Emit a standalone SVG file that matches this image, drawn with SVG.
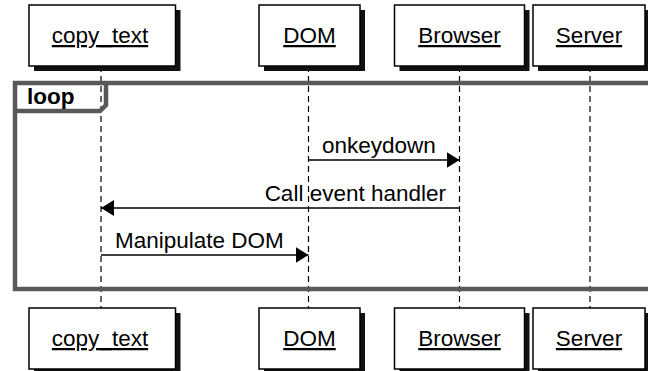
<svg xmlns="http://www.w3.org/2000/svg" width="648" height="371" viewBox="0 0 648 371">
  <style>
    .box { fill: #ffffff; stroke: #000000; stroke-width: 1.5; }
    .shadow { fill: #111111; }
    .name { font-family: "Liberation Sans", Arial, sans-serif; font-size: 22.5px; fill: #000000; text-anchor: middle; text-decoration: underline; }
    .life { stroke: #000000; stroke-width: 1.2; stroke-dasharray: 6 4; fill: none; }
    .frame { fill: none; stroke: #595959; stroke-width: 4.5; }
    .msg { stroke: #000000; stroke-width: 1.5; fill: none; }
    .label { font-family: "Liberation Sans", Arial, sans-serif; font-size: 22.5px; fill: #000000; }
    .kw { font-family: "Liberation Sans", Arial, sans-serif; font-size: 22.5px; font-weight: bold; fill: #000000; }
  </style>
  <defs>
    <marker id="head" markerWidth="14" markerHeight="16" refX="13" refY="8" orient="auto" markerUnits="userSpaceOnUse">
      <path d="M0,0 L13,8 L0,16 Z" fill="#000000"/>
    </marker>
  </defs>

  <rect width="648" height="371" fill="#ffffff"/>

  <!-- lifelines -->
  <g id="lifelines">
    <line class="life" x1="101" y1="66" x2="101" y2="308"/>
    <line class="life" x1="308.5" y1="66" x2="308.5" y2="308"/>
    <line class="life" x1="459.5" y1="66" x2="459.5" y2="308"/>
    <line class="life" x1="590" y1="66" x2="590" y2="308"/>
  </g>

  <!-- loop fragment -->
  <g id="loop">
    <rect class="frame" x="15" y="83" width="650" height="206"/>
    <path class="frame" d="M15,111 H100 L106,105 V83"/>
    <text class="kw" x="27" y="104">loop</text>
  </g>

  <!-- messages -->
  <g id="connectors">
    <line class="msg" x1="308.5" y1="160" x2="459.5" y2="160" marker-end="url(#head)"/>
    <text class="label" x="322" y="153">onkeydown</text>
    <line class="msg" x1="459.5" y1="208" x2="101" y2="208" marker-end="url(#head)"/>
    <text class="label" x="446" y="201" text-anchor="end">Call event handler</text>
    <line class="msg" x1="101" y1="255" x2="308.5" y2="255" marker-end="url(#head)"/>
    <text class="label" x="115" y="248">Manipulate DOM</text>
  </g>

  <!-- participants, top -->
  <g id="copy_text_top">
    <rect class="shadow" x="34" y="10" width="146.5" height="61"/>
    <rect class="box" x="29" y="5" width="146.5" height="61"/>
    <text class="name" x="100" y="43">copy_text</text>
  </g>
  <g id="dom_top">
    <rect class="shadow" x="264" y="10" width="101" height="61"/>
    <rect class="box" x="259" y="5" width="101" height="61"/>
    <text class="name" x="309.5" y="43">DOM</text>
  </g>
  <g id="browser_top">
    <rect class="shadow" x="399.5" y="10" width="130" height="61"/>
    <rect class="box" x="394.5" y="5" width="130" height="61"/>
    <text class="name" x="459.5" y="43">Browser</text>
  </g>
  <g id="server_top">
    <rect class="shadow" x="538" y="10" width="112" height="61"/>
    <rect class="box" x="533" y="5" width="112" height="61"/>
    <text class="name" x="589" y="43">Server</text>
  </g>

  <!-- participants, bottom -->
  <g id="copy_text_bottom">
    <rect class="shadow" x="34" y="313" width="146.5" height="61"/>
    <rect class="box" x="29" y="308" width="146.5" height="61"/>
    <text class="name" x="100" y="346">copy_text</text>
  </g>
  <g id="dom_bottom">
    <rect class="shadow" x="264" y="313" width="101" height="61"/>
    <rect class="box" x="259" y="308" width="101" height="61"/>
    <text class="name" x="309.5" y="346">DOM</text>
  </g>
  <g id="browser_bottom">
    <rect class="shadow" x="399.5" y="313" width="130" height="61"/>
    <rect class="box" x="394.5" y="308" width="130" height="61"/>
    <text class="name" x="459.5" y="346">Browser</text>
  </g>
  <g id="server_bottom">
    <rect class="shadow" x="538" y="313" width="112" height="61"/>
    <rect class="box" x="533" y="308" width="112" height="61"/>
    <text class="name" x="589" y="346">Server</text>
  </g>
</svg>
